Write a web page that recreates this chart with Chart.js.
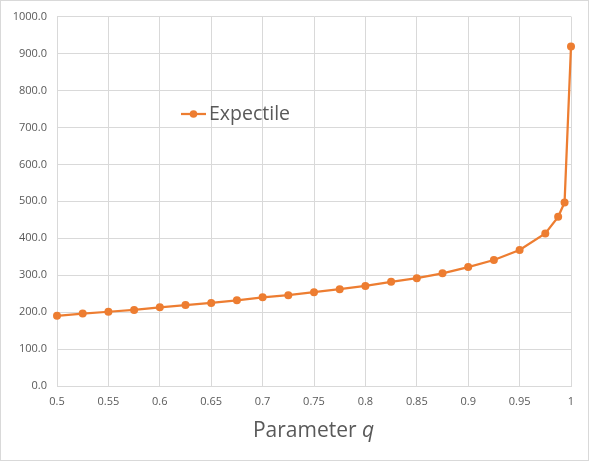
<!DOCTYPE html>
<html>
<head>
<meta charset="utf-8">
<script src="https://cdn.jsdelivr.net/npm/chart.js@4/dist/chart.umd.min.js"></script>
<style>
  html, body { margin: 0; padding: 0; background: #ffffff; }
  #wrap { position: relative; width: 587px; height: 459px; border: 1px solid #d9d9d9; }
  canvas { position: absolute; left: -1px; top: -1px; }
</style>
</head>
<body>
<div id="wrap"><canvas id="myChart" width="589" height="461"></canvas></div>
<script>
'use strict';
/*------ data ------*/
const qValues = [0.5, 0.525, 0.55, 0.575, 0.6, 0.625, 0.65, 0.675, 0.7, 0.725,
  0.75, 0.775, 0.8, 0.825, 0.85, 0.875, 0.9, 0.925, 0.95, 0.975, 0.9875, 0.99375, 1];
const expectileValues = [190, 196, 201, 206, 213, 219, 225, 232, 240, 246,
  254, 262, 271, 282, 292, 305, 322, 341, 368, 413, 458, 497, 919];
const seriesName = 'Expectile';
const xTitle = 'Parameter ';
const xTitleVar = 'q';

const orange = '#ED7D31';
const gray = '#595959';
const gridColor = '#d9d9d9';
const fontFamily = '"Open Sans", "DejaVu Sans", sans-serif';

/*------ legend + axis title drawn inside the canvas ------*/
const extrasPlugin = {
  id: 'extras',
  afterDraw(chart) {
    const ctx = chart.ctx;
    ctx.save();
    // legend (sits inside the plot area)
    ctx.strokeStyle = orange;
    ctx.lineWidth = 2.25;
    ctx.beginPath();
    ctx.moveTo(181, 114);
    ctx.lineTo(206, 114);
    ctx.stroke();
    ctx.fillStyle = orange;
    ctx.beginPath();
    ctx.arc(193.5, 114, 3.8, 0, Math.PI * 2);
    ctx.fill();
    ctx.fillStyle = gray;
    ctx.font = '19.5px ' + fontFamily;
    ctx.textBaseline = 'middle';
    ctx.textAlign = 'left';
    ctx.fillText(seriesName, 209, 114);

    // x axis title with italic q
    const normalFont = '21px ' + fontFamily;
    const italicFont = 'italic 21px ' + fontFamily;
    ctx.font = normalFont;
    const w1 = ctx.measureText(xTitle).width;
    ctx.font = italicFont;
    const w2 = ctx.measureText(xTitleVar).width;
    const startX = 313.5 - (w1 + w2) / 2;
    ctx.textBaseline = 'alphabetic';
    ctx.font = normalFont;
    ctx.fillText(xTitle, startX, 437);
    ctx.font = italicFont;
    ctx.fillText(xTitleVar, startX + w1, 437);
    ctx.restore();
  }
};

const points = qValues.map((q, i) => ({ x: q, y: expectileValues[i] }));

const config = {
  type: 'line',
  data: {
    datasets: [{
      label: seriesName,
      data: points,
      borderColor: orange,
      backgroundColor: orange,
      borderWidth: 2.25,
      pointRadius: 4,
      pointBorderWidth: 0,
      pointBackgroundColor: orange,
      tension: 0,
      clip: false,
    }],
  },
  options: {
    responsive: false,
    animation: false,
    layout: { padding: { left: 0, right: 18, top: 16, bottom: 0 } },
    plugins: {
      legend: { display: false },
      tooltip: { enabled: false },
    },
    scales: {
      x: {
        type: 'linear',
        min: 0.5,
        max: 1,
        grid: { color: gridColor, lineWidth: 1, drawTicks: false },
        border: { color: gridColor },
        ticks: {
          stepSize: 0.05,
          padding: 9,
          color: gray,
          font: { family: fontFamily, size: 11 },
          callback: (v) => String(parseFloat(v.toFixed(3))),
          maxRotation: 0,
        },
        afterFit: (scale) => { scale.height = 75; },
      },
      y: {
        min: 0,
        max: 1000,
        grid: { color: gridColor, lineWidth: 1, drawTicks: false },
        border: { color: gridColor },
        ticks: {
          stepSize: 100,
          padding: 10,
          color: gray,
          font: { family: fontFamily, size: 11 },
          callback: (v) => v.toFixed(1),
        },
        afterFit: (scale) => { scale.width = 57; },
      },
    },
  },
  plugins: [extrasPlugin],
};

const myChart = new Chart(document.getElementById('myChart'), config);
</script>
</body>
</html>
